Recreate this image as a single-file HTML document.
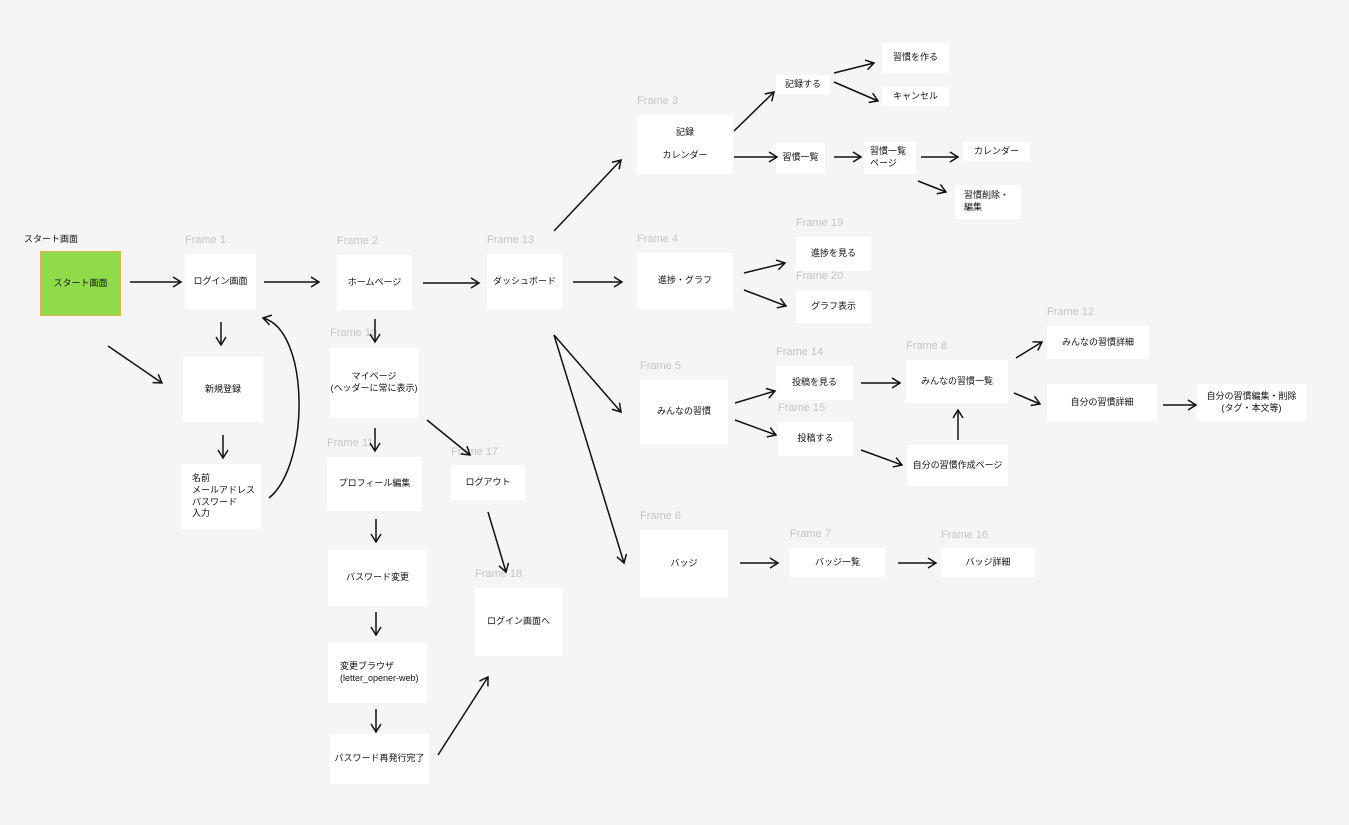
<!DOCTYPE html>
<html><head><meta charset="utf-8"><style>
body{margin:0;width:1349px;height:825px;background:#f5f5f5;position:relative;overflow:hidden;font-family:"Liberation Sans","Noto Sans CJK JP",sans-serif;}
.b{position:absolute;background:#fff;font-size:9px;color:#111;display:flex;align-items:center;justify-content:center;text-align:center;line-height:1.3;box-sizing:border-box}
.l{position:absolute;font-size:11px;color:#c4c4c4;white-space:nowrap}
svg{position:absolute;left:0;top:0}
</style></head><body>
<div style="position:absolute;left:24px;top:232px;font-size:9px;color:#111">スタート画面</div>
<div class="b" style="left:40px;top:251px;width:81px;height:65px;background:#8fdb4a;border:1px solid #e0b84a">スタート画面</div>

<div class="l" style="left:185px;top:234px">Frame 1</div>
<div class="b" style="left:185px;top:254px;width:71px;height:55px">ログイン画面</div>
<div class="b" style="left:183px;top:357px;width:80px;height:65px">新規登録</div>
<div class="b" style="left:181px;top:464px;width:80px;height:65px;justify-content:flex-start;padding-left:11px;text-align:left">名前<br>メールアドレス<br>パスワード<br>入力</div>

<div class="l" style="left:337px;top:235px">Frame 2</div>
<div class="b" style="left:337px;top:255px;width:75px;height:55px">ホームページ</div>
<div class="l" style="left:330px;top:327px">Frame 10</div>
<div class="b" style="left:330px;top:348px;width:88px;height:70px">マイページ<br>(ヘッダーに常に表示)</div>
<div class="l" style="left:327px;top:437px">Frame 11</div>
<div class="b" style="left:327px;top:457px;width:95px;height:54px">プロフィール編集</div>
<div class="b" style="left:328px;top:550px;width:99px;height:56px">パスワード変更</div>
<div class="b" style="left:328px;top:643px;width:99px;height:60px;justify-content:flex-start;padding-left:12px;text-align:left">変更ブラウザ<br>(letter_opener-web)</div>
<div class="b" style="left:330px;top:734px;width:99px;height:50px">パスワード再発行完了</div>
<div class="l" style="left:451px;top:446px">Frame 17</div>
<div class="b" style="left:451px;top:465px;width:74px;height:35px">ログアウト</div>
<div class="l" style="left:475px;top:568px">Frame 18</div>
<div class="b" style="left:475px;top:588px;width:87px;height:68px">ログイン画面へ</div>

<div class="l" style="left:487px;top:234px">Frame 13</div>
<div class="b" style="left:487px;top:254px;width:75px;height:55px">ダッシュボード</div>

<div class="l" style="left:637px;top:95px">Frame 3</div>
<div class="b" style="left:637px;top:115px;width:96px;height:59px">記録<br><br>カレンダー</div>
<div class="b" style="left:776px;top:75px;width:54px;height:19px">記録する</div>
<div class="b" style="left:882px;top:43px;width:67px;height:30px">習慣を作る</div>
<div class="b" style="left:882px;top:87px;width:67px;height:19px">キャンセル</div>
<div class="b" style="left:776px;top:143px;width:49px;height:30px">習慣一覧</div>
<div class="b" style="left:864px;top:142px;width:52px;height:32px;justify-content:flex-start;padding-left:6px;text-align:left">習慣一覧<br>ページ</div>
<div class="b" style="left:963px;top:142px;width:67px;height:19px">カレンダー</div>
<div class="b" style="left:955px;top:185px;width:66px;height:34px;justify-content:flex-start;padding-left:9px;text-align:left">習慣削除・<br>編集</div>

<div class="l" style="left:637px;top:233px">Frame 4</div>
<div class="b" style="left:637px;top:253px;width:96px;height:56px">進捗・グラフ</div>
<div class="l" style="left:796px;top:217px">Frame 19</div>
<div class="b" style="left:796px;top:237px;width:75px;height:34px">進捗を見る</div>
<div class="l" style="left:796px;top:270px">Frame 20</div>
<div class="b" style="left:796px;top:291px;width:75px;height:32px">グラフ表示</div>

<div class="l" style="left:640px;top:360px">Frame 5</div>
<div class="b" style="left:640px;top:380px;width:88px;height:64px">みんなの習慣</div>
<div class="l" style="left:776px;top:346px">Frame 14</div>
<div class="b" style="left:776px;top:366px;width:77px;height:34px">投稿を見る</div>
<div class="l" style="left:778px;top:402px">Frame 15</div>
<div class="b" style="left:778px;top:422px;width:75px;height:34px">投稿する</div>
<div class="l" style="left:906px;top:340px">Frame 8</div>
<div class="b" style="left:906px;top:360px;width:102px;height:43px">みんなの習慣一覧</div>
<div class="b" style="left:907px;top:445px;width:101px;height:41px">自分の習慣作成ページ</div>
<div class="l" style="left:1047px;top:306px">Frame 12</div>
<div class="b" style="left:1047px;top:326px;width:102px;height:33px">みんなの習慣詳細</div>
<div class="b" style="left:1047px;top:384px;width:110px;height:37px">自分の習慣詳細</div>
<div class="b" style="left:1197px;top:384px;width:109px;height:37px">自分の習慣編集・削除<br>(タグ・本文等)</div>

<div class="l" style="left:640px;top:510px">Frame 6</div>
<div class="b" style="left:640px;top:530px;width:88px;height:67px">バッジ</div>
<div class="l" style="left:790px;top:528px">Frame 7</div>
<div class="b" style="left:790px;top:548px;width:95px;height:29px">バッジ一覧</div>
<div class="l" style="left:941px;top:529px">Frame 16</div>
<div class="b" style="left:941px;top:548px;width:94px;height:29px">バッジ詳細</div>

<svg width="1349" height="825" fill="none" stroke="#111" stroke-width="1.5">
<defs><marker id="a" markerWidth="12" markerHeight="12" refX="10" refY="6" orient="auto" markerUnits="userSpaceOnUse"><path d="M2,1 L10,6 L2,11" fill="none" stroke="#111" stroke-width="1.5"/></marker></defs>
<g marker-end="url(#a)">
<line x1="130" y1="282" x2="181" y2="282"/>
<line x1="108" y1="346" x2="162" y2="383"/>
<line x1="221" y1="322" x2="221" y2="345"/>
<line x1="223" y1="435" x2="223" y2="458"/>
<path d="M269,498 C310,465 310,330 263,318"/>
<line x1="264" y1="282" x2="319" y2="282"/>
<line x1="375" y1="319" x2="375" y2="342"/>
<line x1="375" y1="428" x2="375" y2="451"/>
<line x1="376" y1="519" x2="376" y2="542"/>
<line x1="376" y1="612" x2="376" y2="635"/>
<line x1="376" y1="709" x2="376" y2="732"/>
<line x1="427" y1="420" x2="470" y2="455"/>
<line x1="488" y1="512" x2="506" y2="572"/>
<line x1="438" y1="755" x2="488" y2="677"/>
<line x1="423" y1="283" x2="479" y2="283"/>
<line x1="554" y1="231" x2="621" y2="160"/>
<line x1="573" y1="282" x2="622" y2="282"/>
<line x1="554" y1="335" x2="621" y2="412"/>
<line x1="554" y1="335" x2="624" y2="563"/>
<line x1="734" y1="131" x2="774" y2="92"/>
<line x1="834" y1="73" x2="874" y2="63"/>
<line x1="834" y1="82" x2="878" y2="101"/>
<line x1="734" y1="157" x2="777" y2="157"/>
<line x1="834" y1="157" x2="861" y2="157"/>
<line x1="921" y1="157" x2="958" y2="157"/>
<line x1="918" y1="181" x2="946" y2="192"/>
<line x1="744" y1="273" x2="785" y2="263"/>
<line x1="744" y1="290" x2="786" y2="306"/>
<line x1="735" y1="403" x2="775" y2="391"/>
<line x1="735" y1="420" x2="776" y2="435"/>
<line x1="861" y1="383" x2="900" y2="383"/>
<line x1="861" y1="450" x2="902" y2="465"/>
<line x1="958" y1="440" x2="958" y2="410"/>
<line x1="1016" y1="358" x2="1042" y2="342"/>
<line x1="1014" y1="393" x2="1040" y2="404"/>
<line x1="1163" y1="405" x2="1196" y2="405"/>
<line x1="740" y1="563" x2="778" y2="563"/>
<line x1="898" y1="563" x2="936" y2="563"/>
</g>
</svg>
</body></html>
